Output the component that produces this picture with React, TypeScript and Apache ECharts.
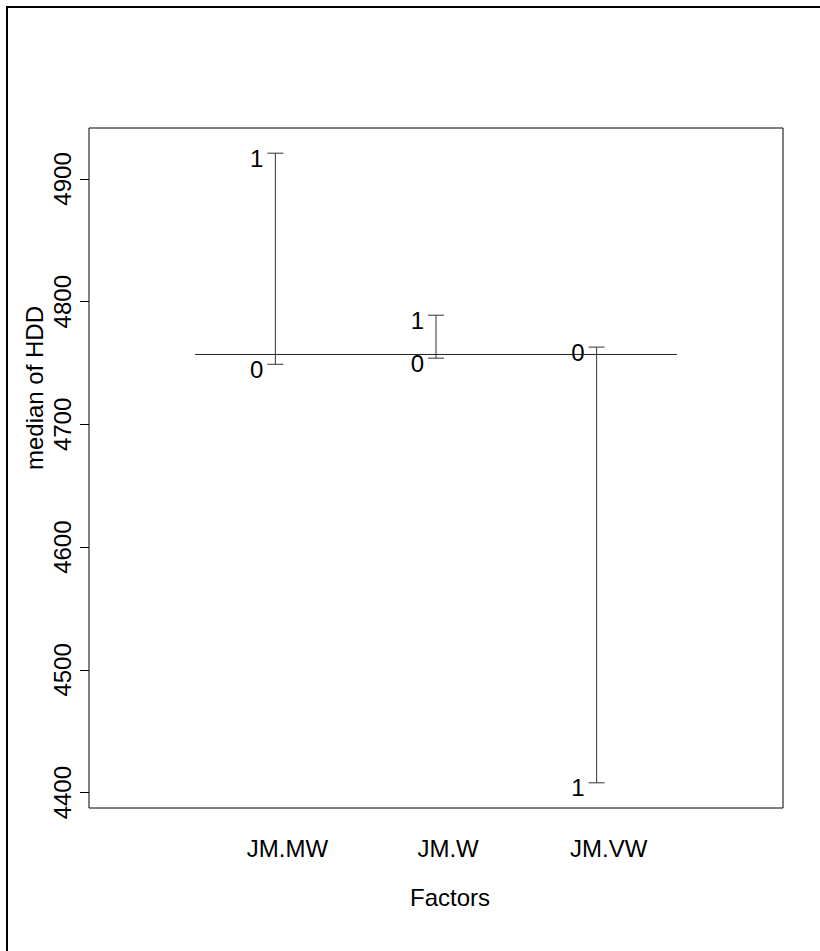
import React, { useEffect, useRef } from "react";
import * as echarts from "echarts";

const factors = ["JM.MW", "JM.W", "JM.VW"];
const levelNames = ["0", "1"];
const level0Medians = [4749, 4754, 4763];
const level1Medians = [4921, 4789, 4408];
const grandMedian = 4757;
const yTicks = [4400, 4500, 4600, 4700, 4800, 4900];
const xTitle = "Factors";
const yTitle = "median of HDD";

const FONT = '"Liberation Sans", Arial, Helvetica, sans-serif';

export default function App() {
  const ref = useRef<HTMLDivElement>(null);

  useEffect(() => {
    if (!ref.current) return;
    const chart = echarts.init(ref.current, null, { renderer: "svg" });

    const allVals = [...level0Medians, ...level1Medians];
    const dMin = Math.min(...allVals);
    const dMax = Math.max(...allVals);
    const ext = (dMax - dMin) * 0.04;
    const yMin = dMin - ext;
    const yMax = dMax + ext;
    const xMin = 0 - 4 * 0.04;
    const xMax = 4 + 4 * 0.04;
    const labelShift = 0.075;

    const data = factors.map((f, i) => [i + 1, level0Medians[i], level1Medians[i]]);

    const option: any = {
      animation: false,
      backgroundColor: "#fff",
      textStyle: { fontFamily: FONT },
      grid: {
        left: 89,
        top: 128,
        width: 694,
        height: 680,
        show: true,
        borderColor: "#000",
        borderWidth: 1,
        backgroundColor: "transparent",
      },
      xAxis: [
        {
          type: "value",
          min: xMin,
          max: xMax,
          show: false,
        },
        {
          type: "value",
          position: "bottom",
          min: xMin - labelShift,
          max: xMax - labelShift,
          axisLine: { show: false, onZero: false },
          axisTick: { show: false },
          splitLine: { show: false },
          axisLabel: {
            customValues: [1, 2, 3],
            formatter: (v: number) => factors[Math.round(v) - 1] ?? "",
            color: "#000",
            fontSize: 24,
            fontFamily: FONT,
            margin: 28,
          },
        },
      ],
      yAxis: {
        type: "value",
        position: "left",
        min: yMin,
        max: yMax,
        axisLine: { show: false, onZero: false },
        splitLine: { show: false },
        axisTick: {
          show: true,
          customValues: yTicks,
          length: 9,
          lineStyle: { color: "#000", width: 1 },
        },
        axisLabel: {
          customValues: yTicks,
          rotate: 90,
          color: "#000",
          fontSize: 24,
          fontFamily: FONT,
          margin: 15,
          formatter: (v: number) => String(Math.round(v)),
        },
      },
      graphic: [
        {
          type: "rect",
          shape: { x: 7, y: 7, width: 900, height: 1000 },
          style: { fill: "none", stroke: "#000", lineWidth: 2 },
          silent: true,
        },
        {
          type: "text",
          x: 34,
          y: 388,
          rotation: Math.PI / 2,
          style: {
            text: yTitle,
            fill: "#000",
            font: `24px ${FONT}`,
            align: "center",
            verticalAlign: "middle",
          },
        },
        {
          type: "text",
          x: 450,
          y: 897,
          style: {
            text: xTitle,
            fill: "#000",
            font: `24px ${FONT}`,
            align: "center",
            verticalAlign: "middle",
          },
        },
      ],
      series: [
        {
          type: "line",
          xAxisIndex: 0,
          data: [
            [0.5, grandMedian],
            [factors.length + 0.5, grandMedian],
          ],
          symbol: "none",
          lineStyle: { color: "#222", width: 1 },
          silent: true,
        },
        {
          type: "custom",
          xAxisIndex: 0,
          data,
          silent: true,
          renderItem: (params: any, api: any) => {
            const x = api.value(0);
            const v0 = api.value(1);
            const v1 = api.value(2);
            const p0 = api.coord([x, v0]);
            const p1 = api.coord([x, v1]);
            const children: any[] = [
              {
                type: "line",
                shape: { x1: p0[0], y1: p0[1], x2: p1[0], y2: p1[1] },
                style: { stroke: "#333", lineWidth: 1 },
              },
            ];
            [p0, p1].forEach((p, k) => {
              children.push({
                type: "line",
                shape: { x1: p[0] - 8, y1: p[1], x2: p[0] + 8, y2: p[1] },
                style: { stroke: "#333", lineWidth: 1 },
              });
              children.push({
                type: "text",
                x: p[0] - 12,
                y: p[1] + 5,
                style: {
                  text: levelNames[k],
                  fill: "#000",
                  font: `24px ${FONT}`,
                  align: "right",
                  verticalAlign: "middle",
                },
              });
            });
            return { type: "group", children };
          },
        },
      ],
    };

    chart.setOption(option);
    return () => chart.dispose();
  }, []);

  return (
    <div
      ref={ref}
      style={{ position: "fixed", left: 0, top: 0, width: 820, height: 951 }}
    />
  );
}
